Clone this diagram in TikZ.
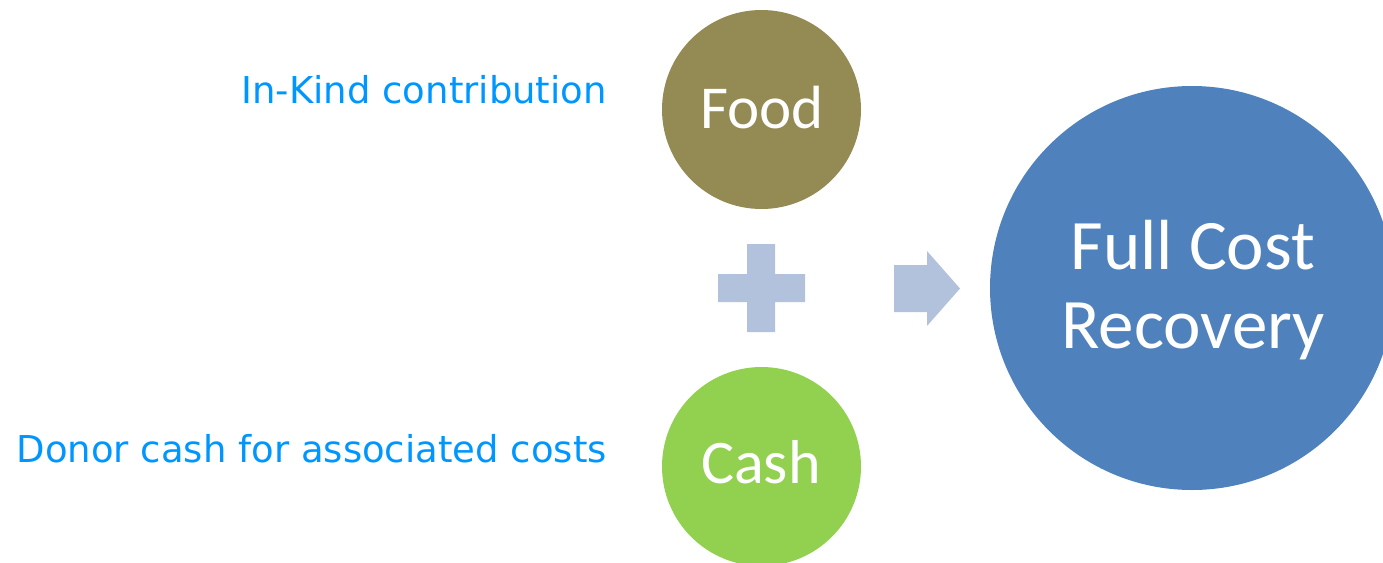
\documentclass[tikz,border=0pt]{standalone}
\usepackage{fontspec}
\setmainfont{Carlito}
\newfontfamily\labelfont{DejaVu Sans}
\definecolor{foodc}{HTML}{948A54}
\definecolor{cashc}{HTML}{92D050}
\definecolor{fullc}{HTML}{4F81BD}
\definecolor{symc}{HTML}{B3C2DC}
\definecolor{labc}{HTML}{0096FF}
\tikzset{
  bubble/.style={circle, inner sep=0pt, text=white, align=center},
  sidelabel/.style={anchor=base east, inner sep=0pt, text=labc, font=\labelfont\fontsize{37}{44}\selectfont},
  symshape/.style={fill=symc, draw=none}
}
\begin{document}
\begin{tikzpicture}[x=1pt,y=-1pt]
\useasboundingbox (0,0) rectangle (1383,562);
\begin{scope}
\clip (0,0) rectangle (1383,562);
\fill[foodc] (761.5,109.5) circle[radius=99.5];
\fill[cashc] (761.5,466.5) circle[radius=99.5];
\fill[fullc] (1192,288) circle[radius=202];
\end{scope}
\node[bubble, anchor=base, font=\fontsize{61}{70}\selectfont] (food) at (762,128) {Food};
\node[bubble, anchor=base, font=\fontsize{62}{70}\selectfont] (cash) at (761,483) {Cash};
\node[bubble, anchor=base, font=\fontsize{71}{79}\selectfont] (full1) at (1193,269) {Full Cost};
\node[bubble, anchor=base, font=\fontsize{71}{79}\selectfont] (full2) at (1193,348) {Recovery};
\node[sidelabel] (inkind) at (607,103) {In-Kind contribution};
\node[sidelabel] (donor) at (607,462) {Donor cash for associated costs};
% plus sign
\fill[symshape] (747,244) -- (775,244) -- (775,274) -- (805,274) -- (805,302) -- (775,302) -- (775,332) -- (747,332) -- (747,302) -- (718,302) -- (718,274) -- (747,274) -- cycle;
% arrow
\fill[symshape] (894,265) -- (927,265) -- (927,251) -- (960,288.5) -- (927,326) -- (927,312) -- (894,312) -- cycle;
\end{tikzpicture}
\end{document}
